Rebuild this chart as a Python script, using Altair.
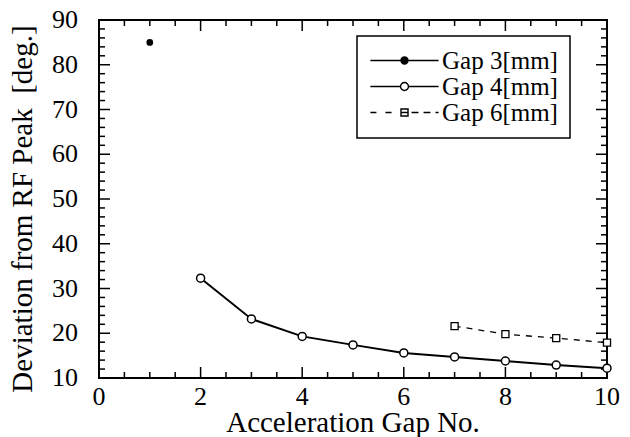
import altair as alt
import pandas as pd

# ---- data ----
series_names = ["Gap 3[mm]", "Gap 4[mm]", "Gap 6[mm]"]
gap3_x = [1]
gap3_y = [85.0]
gap4_x = [2, 3, 4, 5, 6, 7, 8, 9, 10]
gap4_y = [32.3, 23.2, 19.3, 17.4, 15.6, 14.7, 13.8, 12.9, 12.2]
gap6_x = [7, 8, 9, 10]
gap6_y = [21.6, 19.8, 18.9, 17.9]

# tick values (labels on majors)
x_major = [0, 2, 4, 6, 8, 10]
x_minor = [0.5, 1, 1.5, 2.5, 3, 3.5, 4.5, 5, 5.5, 6.5, 7, 7.5, 8.5, 9, 9.5]
y_major = [10, 20, 30, 40, 50, 60, 70, 80, 90]
y_minor = [12, 14, 16, 18, 22, 24, 26, 28, 32, 34, 36, 38, 42, 44, 46, 48,
           52, 54, 56, 58, 62, 64, 66, 68, 72, 74, 76, 78, 82, 84, 86, 88]

x_title = "Acceleration Gap No."
y_title = "Deviation from RF Peak\u00a0 [deg.]"

rows = []
for name, xs_, ys_ in zip(series_names, [gap3_x, gap4_x, gap6_x], [gap3_y, gap4_y, gap6_y]):
    for a, b in zip(xs_, ys_):
        rows.append({"gap": a, "dev": b, "series": name})
df = pd.DataFrame(rows)

FONT = "Liberation Serif"
W, H = 508, 358
MAJ, MIN = 11, 6

xsc = alt.Scale(domain=[0, 10], nice=False, zero=False)
ysc = alt.Scale(domain=[10, 90], nice=False, zero=False)


def xticks(values, length):
    # inward ticks on the bottom and top frame edges, placed through the x scale
    t = alt.Chart(pd.DataFrame({"v": values}))
    bottom = t.mark_rule(color="black", strokeWidth=1.5).encode(
        x=alt.X("v:Q", scale=xsc, axis=None), y=alt.value(H), y2=alt.value(H - length))
    top = t.mark_rule(color="black", strokeWidth=1.5).encode(
        x=alt.X("v:Q", scale=xsc, axis=None), y=alt.value(0), y2=alt.value(length))
    return [bottom, top]


def yticks(values, length):
    t = alt.Chart(pd.DataFrame({"v": values}))
    left = t.mark_rule(color="black", strokeWidth=1.5).encode(
        y=alt.Y("v:Q", scale=ysc, axis=None), x=alt.value(0), x2=alt.value(length))
    right = t.mark_rule(color="black", strokeWidth=1.5).encode(
        y=alt.Y("v:Q", scale=ysc, axis=None), x=alt.value(W), x2=alt.value(W - length))
    return [left, right]


tick_layers = xticks(x_major, MAJ) + xticks(x_minor, MIN) + yticks(y_major, MAJ) + yticks(y_minor, MIN)

# tick labels placed through the scales
x_labels = alt.Chart(pd.DataFrame({"v": x_major})).mark_text(
    font=FONT, fontSize=26, color="black", baseline="top", align="center").encode(
    x=alt.X("v:Q", scale=xsc, axis=None), y=alt.value(H + 6), text=alt.Text("v:Q", format="d"))
y_labels = alt.Chart(pd.DataFrame({"v": y_major})).mark_text(
    font=FONT, fontSize=26, color="black", baseline="middle", align="right").encode(
    y=alt.Y("v:Q", scale=ysc, axis=None), x=alt.value(-21), text=alt.Text("v:Q", format="d"))
x_title_mark = alt.Chart(pd.DataFrame({"t": [x_title]})).mark_text(
    font=FONT, fontSize=29, color="black", baseline="alphabetic", align="center").encode(
    x=alt.value(W / 2), y=alt.value(H + 54), text="t:N")
y_title_mark = alt.Chart(pd.DataFrame({"t": [y_title]})).mark_text(
    font=FONT, fontSize=29, color="black", baseline="alphabetic", align="center", angle=270).encode(
    x=alt.value(-67), y=alt.value(H / 2 + 10), text="t:N")

base = alt.Chart(df)


def only(name):
    return alt.FieldEqualPredicate(field="series", equal=name)


X = alt.X("gap:Q", scale=xsc, axis=None)
Y = alt.Y("dev:Q", scale=ysc, axis=None)

line4 = base.transform_filter(only("Gap 4[mm]")).mark_line(
    color="black", strokeWidth=2).encode(x=X, y=Y)
line6 = base.transform_filter(only("Gap 6[mm]")).mark_line(
    color="black", strokeWidth=1.3, strokeDash=[6, 6]).encode(x=X, y=Y)
pts3 = base.transform_filter(only("Gap 3[mm]")).mark_point(
    shape="circle", filled=True, color="black", size=45, opacity=1).encode(x=X, y=Y)
pts4 = base.transform_filter(only("Gap 4[mm]")).mark_point(
    shape="circle", filled=True, color="white", stroke="black", strokeWidth=1.5, size=64,
    opacity=1).encode(x=X, y=Y)
pts6 = base.transform_filter(only("Gap 6[mm]")).mark_point(
    shape="square", filled=True, color="white", stroke="black", strokeWidth=1.3, size=50,
    opacity=1).encode(x=X, y=Y)

# legend symbols: line + marker glyphs as custom paths (unit = sqrt(size)/2)
sym3 = "M-3.1,0L3.1,0M0.32,0A0.32,0.32 0 1,1 -0.32,0A0.32,0.32 0 1,1 0.32,0Z"
sym4 = ("M-3.1,0L-0.36,0M0.36,0L3.1,0"
        "M0.36,0A0.36,0.36 0 1,1 -0.36,0A0.36,0.36 0 1,1 0.36,0Z")
sym6 = ("M-3.1,0L-2.55,0M-1.73,0L-1.18,0M0.64,0L1.27,0M1.73,0L2.36,0M2.82,0L3.1,0"
        "M-0.32,-0.32L0.32,-0.32L0.32,0.32L-0.32,0.32ZM-0.32,0L0.32,0")

leg = dict(title=None, orient="none", legendX=258, legendY=16, fillColor="white",
           strokeColor="black", padding=12, rowPadding=0, symbolSize=484,
           symbolOffset=23, labelOffset=25, symbolOpacity=1, symbolStrokeColor="black",
           symbolStrokeWidth=1.4, labelFont=FONT, labelFontSize=25, labelColor="black")

legend_layer = base.mark_point(opacity=0).encode(
    x=X, y=Y,
    shape=alt.Shape("series:N", scale=alt.Scale(domain=series_names, range=[sym3, sym4, sym6]),
                    legend=alt.Legend(**leg)),
    fill=alt.Fill("series:N", scale=alt.Scale(domain=series_names, range=["black", "white", "white"]),
                  legend=alt.Legend(**leg)),
    stroke=alt.Stroke("series:N", scale=alt.Scale(domain=series_names, range=["black", "black", "black"]),
                      legend=alt.Legend(**leg)),
)

chart = alt.layer(*tick_layers, x_labels, y_labels, x_title_mark, y_title_mark,
                  line4, line6, pts3, pts4, pts6, legend_layer).properties(
    width=W, height=H,
    autosize=alt.AutoSizeParams(type="none"),
    padding={"left": 91, "top": 12, "right": 15, "bottom": 59},
    background="white",
).configure_view(stroke="black", strokeWidth=2).configure_legend(strokeWidth=1.5)

chart.save("out.html", embed_options={"renderer": "svg", "actions": False})
